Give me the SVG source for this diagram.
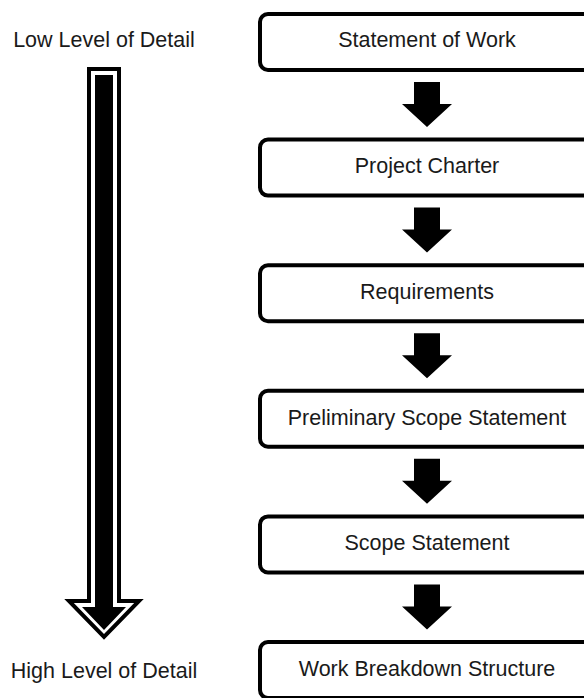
<svg xmlns="http://www.w3.org/2000/svg" width="584" height="698" viewBox="0 0 584 698">
  <style>
    .box { fill: #ffffff; stroke: #000000; stroke-width: 4; }
    .lbl { font-family: "Liberation Sans", Arial, sans-serif; font-size: 21.5px; fill: #1a1a1a; text-anchor: middle; }
    .arr { fill: #000000; }
  </style>
  <rect width="584" height="698" fill="#ffffff"/>

  <g id="detail-scale">
    <text class="lbl" x="104" y="47">Low Level of Detail</text>
    <polygon points="89,69 119,69 119,601 139,601 104,637 69,601 89,601" fill="#ffffff" stroke="#000000" stroke-width="4" stroke-linejoin="miter"/>
    <polygon points="95,75 113,75 113,607 126,607 104,630 82,607 95,607" fill="#000000"/>
    <text class="lbl" x="104" y="678">High Level of Detail</text>
  </g>

  <g id="node-sow">
    <rect class="box" x="260" y="14" width="334" height="56" rx="8"/>
    <text class="lbl" x="427" y="47">Statement of Work</text>
  </g>
  <g id="node-charter">
    <rect class="box" x="260" y="139.6" width="334" height="56" rx="8"/>
    <text class="lbl" x="427" y="173">Project Charter</text>
  </g>
  <g id="node-req">
    <rect class="box" x="260" y="265.2" width="334" height="56" rx="8"/>
    <text class="lbl" x="427" y="299">Requirements</text>
  </g>
  <g id="node-prelim">
    <rect class="box" x="260" y="390.8" width="334" height="56" rx="8"/>
    <text class="lbl" x="427" y="424.5">Preliminary Scope Statement</text>
  </g>
  <g id="node-scope">
    <rect class="box" x="260" y="516.4" width="334" height="56" rx="8"/>
    <text class="lbl" x="427" y="550">Scope Statement</text>
  </g>
  <g id="node-wbs">
    <rect class="box" x="260" y="642" width="334" height="56" rx="8"/>
    <text class="lbl" x="427" y="675.5">Work Breakdown Structure</text>
  </g>

  <g id="connectors">
    <polygon class="arr" points="414,82 440,82 440,104 452,104 427,127 402,104 414,104"/>
    <polygon class="arr" transform="translate(0,125.6)" points="414,82 440,82 440,104 452,104 427,127 402,104 414,104"/>
    <polygon class="arr" transform="translate(0,251.2)" points="414,82 440,82 440,104 452,104 427,127 402,104 414,104"/>
    <polygon class="arr" transform="translate(0,376.8)" points="414,82 440,82 440,104 452,104 427,127 402,104 414,104"/>
    <polygon class="arr" transform="translate(0,502.4)" points="414,82 440,82 440,104 452,104 427,127 402,104 414,104"/>
  </g>
</svg>
